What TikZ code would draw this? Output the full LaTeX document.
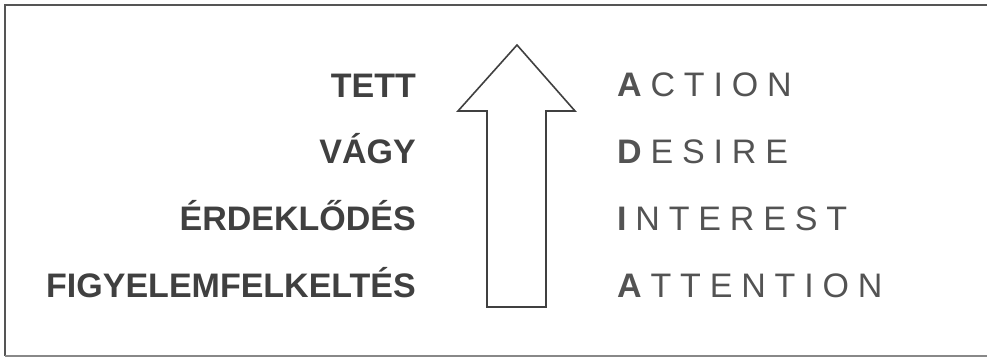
\documentclass[tikz,border=0pt]{standalone}
\usepackage{fontspec}
\setmainfont{Liberation Sans}
\newfontfamily\spacedfont[LetterSpace=26]{Liberation Sans}
\usepackage{tikz}
\usetikzlibrary{calc}
\definecolor{inkgray}{HTML}{404040}
\definecolor{framegray}{HTML}{555555}

\begin{document}
\begin{tikzpicture}[x=1pt, y=-1pt,
    hulabel/.style={anchor=base east, inner sep=0pt, text=inkgray,
        font=\fontsize{34}{38}\selectfont\bfseries},
    enlabel/.style={anchor=base west, inner sep=0pt, text=inkgray!90,
        font=\fontsize{34}{38}\spacedfont}]
        \useasboundingbox (0,0) rectangle (987,358);

        % Draw frame (right side runs off the page)
        \draw[framegray, line width=2.2pt] (992,5) -- (5,5) -- (5,356);
        \draw[framegray!70, line width=2pt] (5,356) -- (992,356);

        % Draw hungarian steps
        \node[hulabel] (tett) at (416,98) {TETT};
        \node[hulabel] (vagy) at (416,164) {VÁGY};
        \node[hulabel] (erdek) at (416,230) {ÉRDEKLŐDÉS};
        \node[hulabel] (figyel) at (416,297) {FIGYELEMFELKELTÉS};

        % Draw the arrow
        \draw[inkgray, line width=1.6pt, line join=miter]
            (487,307) -- (487,111) -- (458,111) -- (517,45)
            -- (575,111) -- (546,111) -- (546,307) -- cycle;

        % Draw english steps
        \node[enlabel] (action) at (617,97) {\textbf{A}CTION};
        \node[enlabel] (desire) at (617,164) {\textbf{D}ESIRE};
        \node[enlabel] (interest) at (617,230) {\textbf{I}NTEREST};
        \node[enlabel] (attention) at (617,297) {\textbf{A}TTENTION};
    \end{tikzpicture}
\end{document}
